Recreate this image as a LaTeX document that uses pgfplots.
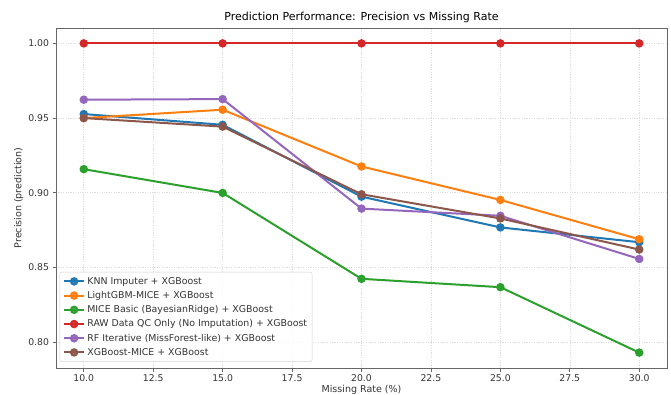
\documentclass[border=0pt]{standalone}
\usepackage{pgfplots}
\pgfplotsset{compat=1.18}
\usepackage{fontspec}
\setmainfont{DejaVu Sans}
\setsansfont{DejaVu Sans}

\definecolor{tabblue}{HTML}{1F77B4}
\definecolor{taborange}{HTML}{FF7F0E}
\definecolor{tabgreen}{HTML}{2CA02C}
\definecolor{tabred}{HTML}{D62728}
\definecolor{tabpurple}{HTML}{9467BD}
\definecolor{tabbrown}{HTML}{8C564B}
\definecolor{txt}{HTML}{333333}

\begin{document}
\begin{tikzpicture}
\useasboundingbox (0,0) rectangle (671pt,394pt);
\begin{axis}[
  at={(56pt,26pt)}, anchor=south west,
  scale only axis, width=611pt, height=340pt,
  xmin=9, xmax=31, ymin=0.7827, ymax=1.0103,
  xtick={10,12.5,...,30},
  ytick={0.80,0.85,0.90,0.95,1.00},
  xticklabel style={/pgf/number format/.cd,fixed,fixed zerofill,precision=1},
  yticklabel style={/pgf/number format/.cd,fixed,fixed zerofill,precision=2},
  /pgf/number format/assume math mode=true,
  tick label style={font=\fontsize{9.3}{10}\selectfont, text=txt},
  tick align=outside, tick pos=left,
  major tick length=3.5pt,
  every tick/.style={gray!80!black, line width=0.7pt},
  axis line style={gray!80!black, line width=0.8pt},
  grid=major,
  major grid style={gray!25, dash pattern=on 1.2pt off 1.2pt, line width=0.6pt},
  title={Prediction Performance: Precision vs Missing Rate},
  title style={font=\fontsize{11}{12}\selectfont, text=black, yshift=-4pt},
  xlabel={Missing Rate (\%)},
  ylabel={Precision (prediction)},
  label style={font=\fontsize{9.5}{11}\selectfont, text=txt},
  xlabel style={yshift=4pt},
  ylabel style={yshift=-2pt},
  legend style={font=\fontsize{9.4}{10}\selectfont, text=txt, draw=gray!35, rounded corners=2pt,
    fill=white, fill opacity=0.85, text opacity=1, at={(0.006,0.018)}, anchor=south west,
    row sep=1.6pt, inner xsep=3pt, inner ysep=3pt},
  legend cell align=left,
  legend image code/.code={
    \draw[mark repeat=2, mark phase=2] plot coordinates {(0cm,0cm) (0.36cm,0cm) (0.72cm,0cm)};
  },
  every axis plot/.append style={line width=2pt, mark=*, mark size=3.2pt, solid},
]
\addplot[tabblue, mark options={fill=tabblue}] coordinates {(10,0.9527) (15,0.9455) (20,0.8974) (25,0.8768) (30,0.8669)};
\addlegendentry{KNN Imputer + XGBoost}
\addplot[taborange, mark options={fill=taborange}] coordinates {(10,0.9500) (15,0.9556) (20,0.9176) (25,0.8952) (30,0.8689)};
\addlegendentry{LightGBM-MICE + XGBoost}
\addplot[tabgreen, mark options={fill=tabgreen}] coordinates {(10,0.9158) (15,0.8999) (20,0.8424) (25,0.8368) (30,0.7930)};
\addlegendentry{MICE Basic (BayesianRidge) + XGBoost}
\addplot[tabred, mark options={fill=tabred}] coordinates {(10,1.0) (15,1.0) (20,1.0) (25,1.0) (30,1.0)};
\addlegendentry{RAW Data QC Only (No Imputation) + XGBoost}
\addplot[tabpurple, mark options={fill=tabpurple}] coordinates {(10,0.9623) (15,0.9627) (20,0.8894) (25,0.8846) (30,0.8557)};
\addlegendentry{RF Iterative (MissForest-like) + XGBoost}
\addplot[tabbrown, mark options={fill=tabbrown}] coordinates {(10,0.9500) (15,0.9443) (20,0.8990) (25,0.8828) (30,0.8620)};
\addlegendentry{XGBoost-MICE + XGBoost}
\end{axis}
\end{tikzpicture}
\end{document}
